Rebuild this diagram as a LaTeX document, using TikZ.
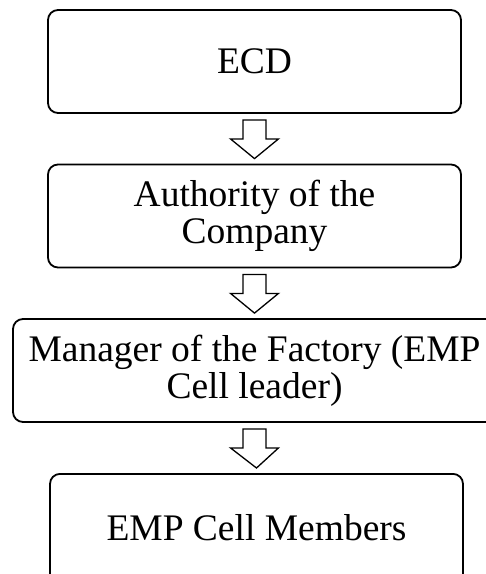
\documentclass[tikz,border=0pt]{standalone}
\usepackage{fontspec}
\setmainfont{Liberation Serif}
\usetikzlibrary{calc}

% hollow block arrow from the bottom of one box to the top of the next
\newcommand\flowarrow[2]{%
  \draw[blockarrow]
    ($(#1.south)+(-11.5,6)$) -- ($(#1.south)+(11.5,6)$)
    -- ($(#1.south)+(11.5,25)$) -- ($(#1.south)+(24,25)$)
    -- ($(#2.north)+(0,-5)$)
    -- ($(#1.south)+(-24,25)$) -- ($(#1.south)+(-11.5,25)$) -- cycle;}

\begin{document}
\begin{tikzpicture}[x=1pt,y=-1pt,
  stepbox/.style={draw, line width=1.8pt, rounded corners=10pt, fill=white,
    align=center, minimum height=103pt, inner sep=0pt,
    font=\fontsize{37.5}{37}\selectfont},
  blockarrow/.style={draw, line width=1.3pt, fill=white, line join=miter}]
  \useasboundingbox (0,0) rectangle (486,574);
  \clip (0,0) rectangle (486,574);

  \node[stepbox, minimum width=413pt] (ecd) at (254.5,61.5) {ECD};
  \node[stepbox, minimum width=413pt] (auth) at (254.5,216)
    {Authority of the\\Company};
  \node[stepbox, minimum width=483pt] (mgr) at (254.5,370.5)
    {Manager of the Factory (EMP\\Cell leader)};
  % the last box runs past the lower edge
  \node[stepbox, minimum width=413pt, minimum height=120pt, anchor=north,
    text depth=12pt] (cell) at (256.5,473) {EMP Cell Members};

  \flowarrow{ecd}{auth}
  \flowarrow{auth}{mgr}
  \flowarrow{mgr}{cell}
\end{tikzpicture}
\end{document}
